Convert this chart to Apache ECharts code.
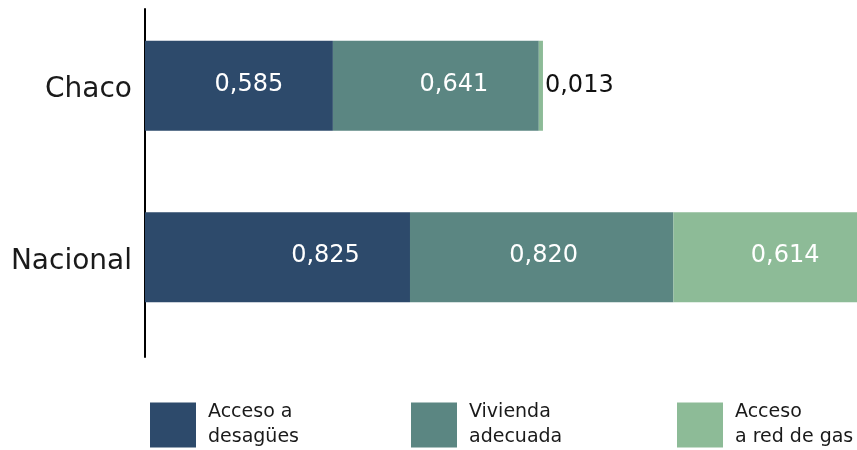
<!DOCTYPE html>
<html>
<head>
<meta charset="utf-8">
<script src="https://cdn.jsdelivr.net/npm/echarts@6/dist/echarts.min.js"></script>
<style>html,body{margin:0;padding:0;background:#fff;}#c{width:857px;height:450px;}</style>
</head>
<body>
<div id="c"></div>
<script>
const categories = ['Chaco', 'Nacional'];
const seriesNames = ['Acceso a\ndesagües', 'Vivienda\nadecuada', 'Acceso\na red de gas'];
const desagues = [0.585, 0.825];
const vivienda = [0.641, 0.820];
const gas = [0.013, 0.614];

const colors = ['#2D4A6B', '#5B8682', '#8DBB97'];
const FONT = 'DejaVu Sans';
// label horizontal nudges, [series][category]
const nudges = [[10, 48], [18, 2], [0, 20]];

function fmt(v) { return v.toFixed(3).replace('.', ','); }

const allValues = [desagues, vivienda, gas];
const series = allValues.map((vals, si) => ({
  name: seriesNames[si],
  type: 'bar',
  stack: 'total',
  barWidth: 90,
  clip: true,
  itemStyle: { color: colors[si] },
  label: {
    show: true,
    position: 'inside',
    color: '#ffffff',
    fontFamily: FONT,
    fontSize: 24,
    formatter: p => fmt(p.value)
  },
  data: vals.map((v, ci) => {
    if (v < 0.05) {
      return { value: v, label: { position: 'right', distance: 2, color: '#111111' } };
    }
    return { value: v, label: { offset: [nudges[si][ci], -1] } };
  })
}));

const legends = seriesNames.map((n, i) => ({
  data: [n],
  left: [150, 411, 677][i],
  top: 400,
  padding: 0,
  orient: 'horizontal',
  icon: 'rect',
  itemWidth: 46,
  itemHeight: 45,
  selectedMode: false,
  textStyle: { fontFamily: FONT, fontSize: 19, lineHeight: 25, color: '#1a1a1a', padding: [0, 0, 0, 7] }
}));

const chart = echarts.init(document.getElementById('c'), null, { renderer: 'canvas' });
chart.setOption({
  animation: false,
  backgroundColor: '#ffffff',
  color: colors,
  legend: legends,
  grid: [
    { left: 145, right: 0, top: -1, height: 344, containLabel: false },
    { left: 145, right: 0, top: 9, height: 348, containLabel: false }
  ],
  xAxis: [
    { type: 'value', gridIndex: 0, min: 0, max: 2.2167, show: false },
    { type: 'value', gridIndex: 1, min: 0, max: 1, show: false }
  ],
  yAxis: [
    {
      type: 'category', gridIndex: 0, data: categories, inverse: true,
      axisLine: { show: false }, axisTick: { show: false },
      axisLabel: {
        margin: 13,
        formatter: v => '{c|' + v + '}',
        rich: { c: { fontFamily: FONT, fontSize: 28, color: '#1a1a1a', padding: [8, 0, 0, 0] } }
      }
    },
    {
      type: 'category', gridIndex: 1, data: categories, inverse: true,
      axisLine: { show: true, lineStyle: { color: '#000000', width: 2 } },
      axisTick: { show: false }, axisLabel: { show: false }
    }
  ],
  series: series
});
</script>
</body>
</html>
